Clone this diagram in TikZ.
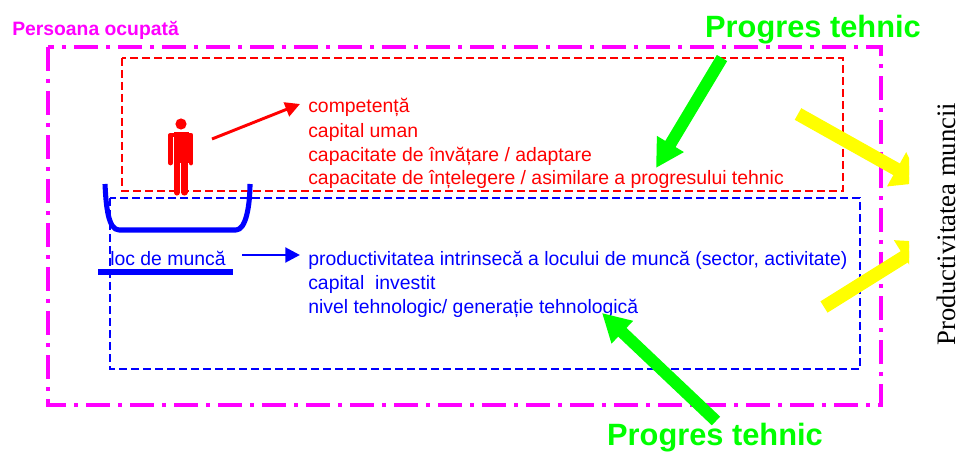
\documentclass[tikz,border=0pt]{standalone}
\usepackage{fontspec}
\setmainfont{Liberation Sans}
\newfontfamily\serifface{Liberation Serif}
\usetikzlibrary{arrows.meta}
\definecolor{mag}{RGB}{255,0,255}
\definecolor{grn}{RGB}{0,255,0}
\definecolor{yel}{RGB}{255,255,0}
\definecolor{blu}{RGB}{0,0,255}
\definecolor{rd}{RGB}{255,0,0}
\tikzset{x=0.75pt,y=-0.75pt,
 outerbox/.style={draw=mag,line width=3pt,dash pattern=on 18pt off 6pt on 3pt off 6pt},
 redbox/.style={draw=rd,line width=1.5pt,dash pattern=on 6pt off 3pt},
 bluebox/.style={draw=blu,line width=1.5pt,dash pattern=on 6pt off 3pt},
 txt/.style={anchor=base west,inner sep=0pt,font=\fontsize{14.55pt}{17pt}\selectfont},
 redtxt/.style={txt,text=rd},
 bluetxt/.style={txt,text=blu},
 bigtxt/.style={anchor=center,inner sep=0pt,text=grn,font=\fontsize{23.1pt}{28pt}\selectfont\bfseries},
 greenarrow/.style={draw=grn,line width=9pt,-{Triangle[length=21pt,width=22pt]}},
 yellowarrow/.style={draw=yel,line width=10pt,-{Triangle[length=21pt,width=28pt]}},
 thinarrow/.style={draw=#1,line width=2.2pt,-{Triangle[length=11pt,width=11pt]}},
}
\begin{document}
\begin{tikzpicture}
\useasboundingbox (0,0) rectangle (960,452);
\node[anchor=west,inner sep=0pt,text=mag,font=\fontsize{14.5pt}{17pt}\selectfont\bfseries] (pers) at (12,30) {Persoana ocupată};
\draw[outerbox] (48,47) rectangle (881,405);
\draw[redbox] (122,58) rectangle (843,191);
\draw[bluebox] (110,198) rectangle (860,369);
% person
\fill[rd] (181,124) circle (5.6);
\draw[rd,line width=3.6pt,line cap=round,line join=round] (170.5,163) -- (170.5,135) -- (191,135) -- (191,163);
\fill[rd] (173.5,132) rectangle (188.5,163);
\draw[rd,line width=4.6pt,line cap=round] (177,160) -- (177,192.5);
\draw[rd,line width=4.6pt,line cap=round] (184.5,160) -- (184.5,192.5);
% cup
\draw[blu,line width=3.8pt,line join=round] (105,184) .. controls (106,205) and (108,230) .. (119,230) -- (236,230) .. controls (246,230) and (250,205) .. (250,184);
\draw[blu,line width=3.8pt] (98,272) -- (233,272);
% texts
\node[bluetxt] (loc) at (110,266) {loc de muncă};
\node[redtxt] (r1) at (308,113) {competență};
\node[redtxt] (r2) at (308,138) {capital uman};
\node[redtxt] (r3) at (308,162) {capacitate de învățare / adaptare};
\node[redtxt] (r4) at (308,185) {capacitate de înțelegere / asimilare a progresului tehnic};
\node[bluetxt] (b1) at (308,266) {productivitatea intrinsecă a locului de muncă (sector, activitate)};
\node[bluetxt] (b2) at (308,290) {capital\ \ investit};
\node[bluetxt] (b3) at (308,314) {nivel tehnologic/ generație tehnologică};
\coordinate (pa) at (212,139); \coordinate (pb) at (300,104);
\draw[thinarrow=rd] (pa) -- (pb);
\coordinate (la) at (242,255); \coordinate (lb) at (300,255);
\draw[thinarrow=blu] (la) -- (lb);
% big text
\node[bigtxt] (pt1) at (813,29.5) {Progres tehnic};
\node[bigtxt] (pt2) at (715,438) {Progres tehnic};
\node[rotate=90,inner sep=0pt,font=\serifface\fontsize{20pt}{24pt}\selectfont] (pm) at (946.5,224) {Productivitatea muncii};
% green arrows
\coordinate (g1a) at (722,58); \coordinate (g1b) at (656,168);
\draw[greenarrow] (g1a) -- (g1b);
\coordinate (g2a) at (716,421); \coordinate (g2b) at (602,313);
\draw[greenarrow] (g2a) -- (g2b);
% yellow arrows
\begin{scope}
\clip (780,90) rectangle (909,330);
\coordinate (y1a) at (798,114); \coordinate (y1b) at (921,183);
\draw[yellowarrow] (y1a) -- (y1b);
\coordinate (y2a) at (824,307); \coordinate (y2b) at (928,242);
\draw[yellowarrow] (y2a) -- (y2b);
\end{scope}
\end{tikzpicture}
\end{document}
